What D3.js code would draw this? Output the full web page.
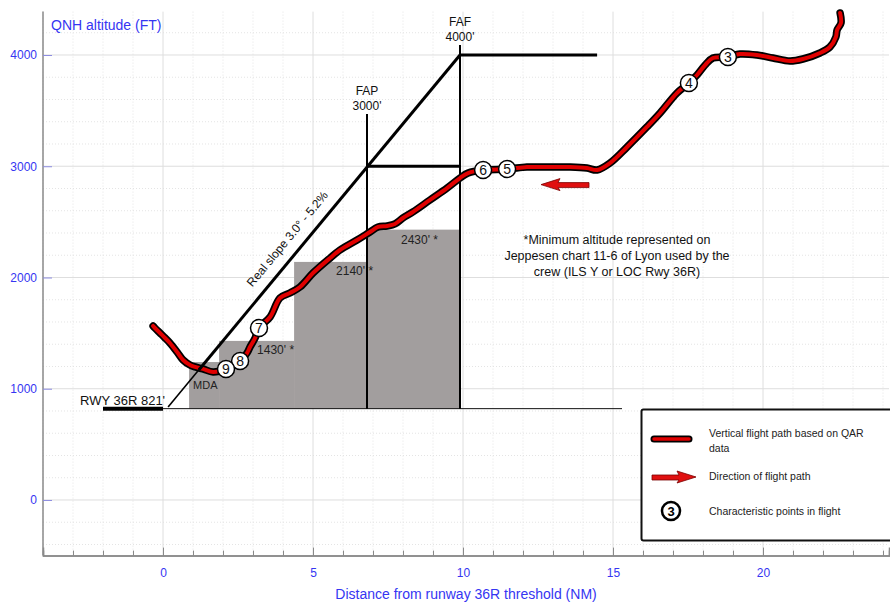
<!DOCTYPE html>
<html>
<head>
<meta charset="utf-8">
<script src="https://cdn.jsdelivr.net/npm/d3@7"></script>
<style>
  body { margin: 0; background: #fff; }
  svg { display: block; font-family: "Liberation Sans", Arial, sans-serif; }
</style>
</head>
<body>
<div id="chart"></div>
<script>
// flight path (NM from threshold, QNH altitude ft), from start of the approach to the end
const pathNM = [22.57, 22.6, 22.47, 22.43, 22.23, 21.9, 21.33, 20.9, 20.33, 19.8, 19.23, 18.83, 18.33, 18.07, 17.8, 17.53,
  17.13, 16.57, 16.13, 15.47, 14.9, 14.47, 14.13, 13.57, 12.67, 12.13, 11.47, 10.67, 10.17, 9.9, 9.47, 8.9, 8.33, 8.0,
  7.73, 7.47, 7.17, 6.9, 6.47, 5.9, 5.57, 5.0, 4.57, 4.23, 3.9, 3.57, 3.2, 3.07, 2.9, 2.8, 2.57, 2.1, 1.67, 1.33, 1.07,
  0.9, 0.67, 0.47, 0.23, 0.07, -0.1, -0.27, -0.33];
const pathAlt = [4378, 4288, 4225, 4162, 4072, 4018, 3964, 3946, 3973, 4000, 4009, 3982, 3973, 3910, 3820, 3748,
  3658, 3479, 3353, 3173, 3029, 2966, 2984, 2993, 2993, 2993, 2975, 2966, 2939, 2894, 2804, 2697, 2589, 2535,
  2481, 2463, 2454, 2409, 2337, 2247, 2175, 2040, 1915, 1861, 1816, 1645, 1546, 1456, 1375, 1321, 1249, 1178, 1151, 1178, 1196,
  1213, 1258, 1330, 1411, 1456, 1501, 1546, 1564];

// characteristic points
const markerLabels = ['3', '4', '5', '6', '7', '8', '9'];
const markerNM = [18.83, 17.53, 11.47, 10.67, 3.2, 2.57, 2.1];
const markerAlt = [3982, 3748, 2975, 2966, 1546, 1249, 1178];

// minimum altitudes (Jeppesen step-down)
const stepStart = [0.87, 1.87, 4.37, 6.8];
const stepEnd = [1.87, 4.37, 6.8, 9.9];
const stepAlt = [1240, 1430, 2140, 2430];
const stepLabels = ['', "1430' *", "2140' *", "2430' *"];

const runwayAlt = 821;
const runwayStart = -2, groundEnd = 15.3;
const fapNM = 6.8, fapAlt = 3000, fapTop = 3470;
const fafNM = 9.9, fafAlt = 4000, fafTop = 4090, fafLevelEnd = 14.47;
const slopeStart = [0.17, 836];
const arrowFromNM = 14.2, arrowToNM = 12.6, arrowAlt = 2835;

const xTicks = [0, 5, 10, 15, 20];
const yTicks = [0, 1000, 2000, 3000, 4000];

const width = 890, height = 606;
const blue = '#3535f2';

const svg = d3.select('#chart').append('svg')
  .attr('width', width)
  .attr('height', height);

const x = d3.scaleLinear().domain([-4, 24.2]).range([43, 889]);
const y = d3.scaleLinear().domain([-500, 4400]).range([555.6, 10.5]);

// grid
const grid = svg.append('g');
grid.selectAll('.vminor')
  .data(d3.range(-4, 25, 1).filter(d => d % 5 !== 0))
  .enter().append('line')
  .attr('x1', d => x(d)).attr('x2', d => x(d))
  .attr('y1', y(4390)).attr('y2', y(-500))
  .attr('stroke', '#e4e4e4').attr('stroke-dasharray', '1,2');
grid.selectAll('.hminor')
  .data(d3.range(-400, 4400, 200).filter(d => d % 1000 !== 0))
  .enter().append('line')
  .attr('x1', x(-4)).attr('x2', x(24.2))
  .attr('y1', d => y(d)).attr('y2', d => y(d))
  .attr('stroke', '#e4e4e4').attr('stroke-dasharray', '1,2');
grid.selectAll('.vmajor')
  .data([0, 5, 10, 15, 20])
  .enter().append('line')
  .attr('x1', d => x(d)).attr('x2', d => x(d))
  .attr('y1', y(4390)).attr('y2', y(-500))
  .attr('stroke', '#dedede');
grid.selectAll('.hmajor')
  .data(yTicks)
  .enter().append('line')
  .attr('x1', x(-4)).attr('x2', x(24.2))
  .attr('y1', d => y(d)).attr('y2', d => y(d))
  .attr('stroke', '#dedede');

// axes
const xMinor = svg.append('g')
  .attr('transform', `translate(0,${y(-500)})`)
  .call(d3.axisBottom(x).tickValues(d3.range(-3, 25, 1)).tickSize(-5).tickFormat(''));
const xAxis = svg.append('g')
  .attr('transform', `translate(0,${y(-500)})`)
  .call(d3.axisBottom(x).tickValues(xTicks).tickSize(-8).tickPadding(13).tickFormat(d3.format('d')));
const yAxis = svg.append('g')
  .attr('transform', `translate(${x(-4)},0)`)
  .call(d3.axisLeft(y).tickValues(yTicks).tickSize(-9).tickPadding(6).tickSizeOuter(0).tickFormat(d3.format('d')));

[xMinor, xAxis].forEach(a => {
  a.select('.domain').attr('stroke', '#8a8a8a').attr('stroke-width', 1.5);
  a.selectAll('.tick line').attr('stroke', '#8a8a8a');
});
yAxis.select('.domain').attr('d', `M0,${y(4390)}V${y(-500)}`).attr('stroke', '#8a8a8a').attr('stroke-width', 1.5);
yAxis.selectAll('.tick line').attr('stroke', '#8c8ce0');
svg.selectAll('.tick text').attr('fill', blue).style('font-size', '12px')
  .style('font-family', '"Liberation Sans", Arial, sans-serif');

svg.append('text')
  .attr('x', 51).attr('y', 30)
  .attr('fill', blue).style('font-size', '14px')
  .text('QNH altitude (FT)');
svg.append('text')
  .attr('x', 466).attr('y', 599)
  .attr('text-anchor', 'middle')
  .attr('fill', blue).style('font-size', '14px')
  .text('Distance from runway 36R threshold (NM)');

// minimum altitude blocks
svg.selectAll('.step')
  .data(stepAlt)
  .enter().append('rect')
  .attr('x', (d, i) => x(stepStart[i]))
  .attr('y', d => y(d))
  .attr('width', (d, i) => x(stepEnd[i]) - x(stepStart[i]) + 0.5)
  .attr('height', d => y(runwayAlt) - y(d))
  .attr('fill', '#a29e9e');

svg.selectAll('.step-label')
  .data(stepLabels)
  .enter().append('text')
  .attr('x', (d, i) => x(stepStart[i]) + [0, 38, 42, 34][i])
  .attr('y', (d, i) => y(stepAlt[i]) + [0, 13, 13, 14][i])
  .style('font-size', '12px')
  .attr('fill', '#222')
  .text(d => d);

svg.append('text')
  .attr('x', x(stepStart[0]) + 4).attr('y', y(stepAlt[0]) + 27)
  .style('font-size', '11px').attr('fill', '#222')
  .text('MDA');

// runway and ground
svg.append('line')
  .attr('x1', x(0)).attr('x2', x(groundEnd))
  .attr('y1', y(runwayAlt)).attr('y2', y(runwayAlt))
  .attr('stroke', '#111').attr('stroke-width', 1);
svg.append('line')
  .attr('x1', x(runwayStart)).attr('x2', x(0))
  .attr('y1', y(runwayAlt)).attr('y2', y(runwayAlt))
  .attr('stroke', '#000').attr('stroke-width', 4);
svg.append('text')
  .attr('x', 80).attr('y', y(runwayAlt) - 4)
  .style('font-size', '13px').attr('fill', '#111')
  .text("RWY 36R 821'");

// FAP / FAF
svg.append('line')
  .attr('x1', x(fapNM)).attr('x2', x(fapNM))
  .attr('y1', y(fapTop)).attr('y2', y(runwayAlt))
  .attr('stroke', '#000').attr('stroke-width', 2);
svg.append('line')
  .attr('x1', x(fafNM)).attr('x2', x(fafNM))
  .attr('y1', y(fafTop)).attr('y2', y(runwayAlt))
  .attr('stroke', '#000').attr('stroke-width', 2);
svg.append('line')
  .attr('x1', x(fapNM)).attr('x2', x(fafNM))
  .attr('y1', y(fapAlt)).attr('y2', y(fapAlt))
  .attr('stroke', '#000').attr('stroke-width', 3);
svg.append('line')
  .attr('x1', x(fafNM)).attr('x2', x(fafLevelEnd))
  .attr('y1', y(fafAlt)).attr('y2', y(fafAlt))
  .attr('stroke', '#000').attr('stroke-width', 3);

[[fapNM, fapTop, 'FAP', "3000'"], [fafNM, fafTop, 'FAF', "4000'"]].forEach(([nm, top, a, b]) => {
  svg.append('text').attr('x', x(nm)).attr('y', y(top) - 19)
    .attr('text-anchor', 'middle').style('font-size', '12px').attr('fill', '#111').text(a);
  svg.append('text').attr('x', x(nm)).attr('y', y(top) - 4)
    .attr('text-anchor', 'middle').style('font-size', '12px').attr('fill', '#111').text(b);
});

// flight path
const line = d3.line()
  .x((d, i) => x(pathNM[i]))
  .y(d => y(d))
  .curve(d3.curveCatmullRom);
svg.append('path')
  .attr('d', line(pathAlt))
  .attr('fill', 'none').attr('stroke', '#000')
  .attr('stroke-width', 7.5).attr('stroke-linejoin', 'round').attr('stroke-linecap', 'round');
svg.append('path')
  .attr('d', line(pathAlt))
  .attr('fill', 'none').attr('stroke', '#e00000')
  .attr('stroke-width', 4).attr('stroke-linejoin', 'round').attr('stroke-linecap', 'round');

// real slope line
const slopeAt = nm => slopeStart[1] + (nm - slopeStart[0]) * (fafAlt - slopeStart[1]) / (fafNM - slopeStart[0]);
svg.append('line')
  .attr('x1', x(slopeStart[0])).attr('y1', y(slopeStart[1]))
  .attr('x2', x(1.3)).attr('y2', y(slopeAt(1.3)))
  .attr('stroke', '#000').attr('stroke-width', 1.6);
svg.append('line')
  .attr('x1', x(1.2)).attr('y1', y(slopeAt(1.2)))
  .attr('x2', x(fafNM)).attr('y2', y(fafAlt))
  .attr('stroke', '#000').attr('stroke-width', 3);
const angle = Math.atan2(y(slopeAt(4)) - y(slopeAt(6)), x(6) - x(4)) * 180 / Math.PI;
svg.append('text')
  .attr('transform', `translate(${x(4.55) - 9},${y(slopeAt(4.55)) - 7}) rotate(${-angle})`)
  .attr('text-anchor', 'middle')
  .style('font-size', '12px').attr('fill', '#111')
  .text('Real slope 3.0° - 5.2%');

// direction arrow
function arrowShape(g, x0, x1, yc) {
  const head = 19;
  g.append('path')
    .attr('d', `M${x1},${yc} L${x1 + head},${yc - 6} L${x1 + head - 2},${yc - 2} L${x0},${yc - 2} L${x0},${yc + 3} L${x1 + head - 2},${yc + 3} L${x1 + head},${yc + 6} Z`)
    .attr('fill', '#e01010').attr('stroke', '#7a0000').attr('stroke-width', 0.8);
}
arrowShape(svg, x(arrowFromNM), x(arrowToNM), y(arrowAlt));

// characteristic point markers
const marks = svg.selectAll('.mark')
  .data(markerLabels)
  .enter().append('g')
  .attr('transform', (d, i) => `translate(${x(markerNM[i])},${y(markerAlt[i])})`);
marks.append('circle')
  .attr('r', 8.5).attr('fill', '#fff').attr('stroke', '#000').attr('stroke-width', 1.5);
marks.append('text')
  .attr('text-anchor', 'middle').attr('dy', '0.36em')
  .style('font-size', '14px').attr('fill', '#111')
  .text(d => d);

// note
const note = ['*Minimum altitude represented on', 'Jeppesen chart 11-6 of Lyon used by the', 'crew (ILS Y or LOC Rwy 36R)'];
svg.selectAll('.note')
  .data(note)
  .enter().append('text')
  .attr('x', 617).attr('y', (d, i) => 244 + i * 16)
  .attr('text-anchor', 'middle')
  .style('font-size', '12.5px').attr('fill', '#111')
  .text(d => d);

// legend
const lg = svg.append('g');
lg.append('rect')
  .attr('x', 641.5).attr('y', 409.5).attr('width', 260).attr('height', 131)
  .attr('rx', 2).attr('fill', '#fff').attr('stroke', '#111').attr('stroke-width', 2);
lg.append('line')
  .attr('x1', 654).attr('x2', 689).attr('y1', 439).attr('y2', 439)
  .attr('stroke', '#000').attr('stroke-width', 7).attr('stroke-linecap', 'round');
lg.append('line')
  .attr('x1', 654).attr('x2', 689).attr('y1', 439).attr('y2', 439)
  .attr('stroke', '#e00000').attr('stroke-width', 3.5).attr('stroke-linecap', 'round');
arrowShape(lg.append('g').attr('transform', 'translate(1348,0) scale(-1,1)'), 696, 652, 477);
lg.append('circle')
  .attr('cx', 671).attr('cy', 511).attr('r', 9)
  .attr('fill', '#fff').attr('stroke', '#000').attr('stroke-width', 2.5);
lg.append('text')
  .attr('x', 671).attr('y', 511).attr('dy', '0.36em').attr('text-anchor', 'middle')
  .style('font-size', '13px').style('font-weight', 'bold').text('3');
const legendText = [['Vertical flight path based on QAR', 437], ['data', 452], ['Direction of flight path', 480], ['Characteristic points in flight', 515]];
lg.selectAll('.lt')
  .data(legendText)
  .enter().append('text')
  .attr('x', 709).attr('y', d => d[1])
  .style('font-size', '10.5px').attr('fill', '#222')
  .text(d => d[0]);
</script>
</body>
</html>
